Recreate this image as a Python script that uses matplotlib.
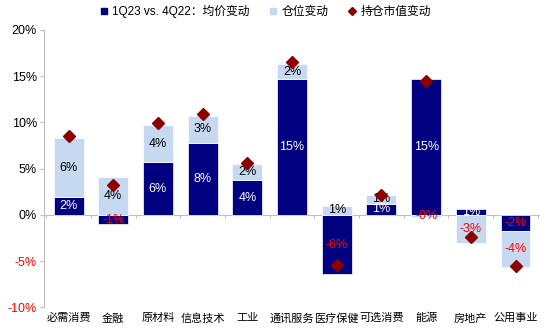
import numpy as np
import matplotlib
matplotlib.use("Agg")
import matplotlib.pyplot as plt
from matplotlib.lines import Line2D

plt.rcParams['font.family'] = ['Liberation Sans', 'Noto Sans CJK SC']
plt.rcParams['axes.unicode_minus'] = False

# ---- 数据 ----
categories = ['必需消费', '金融', '原材料', '信息技术', '工业', '通讯服务',
              '医疗保健', '可选消费', '能源', '房地产', '公用事业']
price_chg = [1.9, -1.0, 5.7, 7.8, 3.75, 14.7, -6.4, 1.22, 14.7, 0.6, -1.7]      # 均价变动
position_chg = [6.4, 4.1, 4.0, 2.9, 1.75, 1.6, 1.0, 0.94, -0.2, -3.0, -3.9]    # 仓位变动
value_chg = [8.5, 3.2, 9.95, 10.95, 5.65, 16.5, -5.4, 2.15, 14.5, -2.4, -5.55]  # 持仓市值变动
yticks = [-10, -5, 0, 5, 10, 15, 20]

DARK = '#000080'
LIGHT = '#C6D9F1'
DIAMOND = '#8B0000'
RED = '#FF0000'

price = np.array(price_chg)
pos = np.array(position_chg)
x = np.arange(len(categories))
w = 0.67

# 正负分别堆叠
pos_bottom = np.where(pos >= 0, np.maximum(price, 0), np.minimum(price, 0))

fig = plt.figure(figsize=(5.5, 3.33), dpi=100)
ax = fig.add_axes([0.08, 0.0766, 0.902, 0.8334])

ax.bar(x, price, width=w, color=DARK, edgecolor='white', linewidth=0.5, zorder=2)
ax.bar(x, pos, width=w, bottom=pos_bottom, color=LIGHT, edgecolor='white', linewidth=0.5, zorder=2)
ax.plot(x, value_chg, linestyle='none', marker='D', markersize=6, color=DIAMOND, zorder=4)

# 数据标签
for i in range(len(x)):
    c = RED if price[i] < 0 else 'white'
    ax.text(x[i], price[i] / 2, f"{price[i]:.0f}%", ha='center', va='center',
            fontsize=9, color=c, zorder=3)
    c = RED if pos[i] < 0 else 'black'
    ax.text(x[i], pos_bottom[i] + pos[i] / 2, f"{pos[i]:.0f}%", ha='center', va='center',
            fontsize=9, color=c, zorder=3)

ax.set_xlim(-0.55, len(x) - 0.45)
ax.set_ylim(-10, 20)
ax.set_yticks(yticks)
ax.set_yticklabels([f"{t}%" for t in yticks], fontsize=9)
for lab, t in zip(ax.get_yticklabels(), yticks):
    if t < 0:
        lab.set_color(RED)

ax.set_xticks(x)
ax.set_xticklabels(categories, fontsize=8)
ax.tick_params(axis='x', length=0, pad=4)
ax.tick_params(axis='y', length=3, color='#BFBFBF', pad=2)

for s in ['top', 'right', 'bottom']:
    ax.spines[s].set_visible(False)
ax.spines['left'].set_color('#BFBFBF')
ax.spines['left'].set_linewidth(0.8)

# 零轴与分隔刻度
ax.axhline(0, color='#BFBFBF', linewidth=0.8, zorder=1)
ax.vlines(np.arange(len(x) + 1) - 0.5, -0.35, 0, color='#BFBFBF', linewidth=0.8, zorder=1)

handles = [
    Line2D([], [], linestyle='none', marker='s', markersize=5, color=DARK),
    Line2D([], [], linestyle='none', marker='s', markersize=5, color=LIGHT),
    Line2D([], [], linestyle='none', marker='D', markersize=4, color=DIAMOND),
]
fig.legend(handles, ['1Q23 vs. 4Q22：均价变动', '仓位变动', '持仓市值变动'],
           loc='center', bbox_to_anchor=(0.482, 0.966), ncol=3, frameon=False,
           fontsize=8.5, handlelength=0.8, handletextpad=0.3, columnspacing=1.6)

fig.savefig('out.png', dpi=100)
plt.close(fig)
